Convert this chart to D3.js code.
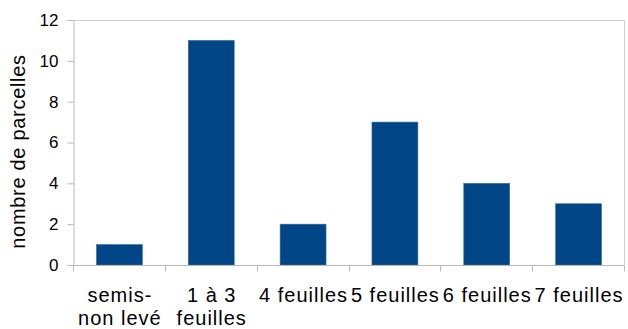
<!DOCTYPE html>
<html>
<head>
<meta charset="utf-8">
<script src="https://cdn.jsdelivr.net/npm/d3@7"></script>
<style>
  body { margin: 0; background: #fff; }
  text { font-family: "Liberation Sans", Arial, sans-serif; fill: #000; }
</style>
</head>
<body>
<div id="wrapper"></div>
<script>
const categories = [["semis-", "non levé"], ["1 à 3", "feuilles"], ["4 feuilles"], ["5 feuilles"], ["6 feuilles"], ["7 feuilles"]]
const values = [1, 11, 2, 7, 4, 3]
const yTicks = [0, 2, 4, 6, 8, 10, 12]
const yTitle = "nombre de parcelles"

const width = 628
const height = 329
const margin = {top: 20, right: 4, bottom: 64, left: 73}

const svg = d3.select("#wrapper")
  .append("svg")
  .attr("width", width)
  .attr("height", height)

const x = d3.scaleBand()
  .domain(d3.range(categories.length))
  .range([margin.left, width - margin.right])
  .paddingInner(0.5)
  .paddingOuter(0.25)

const y = d3.scaleLinear()
  .domain([0, 12])
  .range([height - margin.bottom, margin.top])

// frame top + right
svg.append("path")
  .attr("d", `M${margin.left},${margin.top + 0.5}H${width - margin.right + 0.5}V${y(0)}`)
  .attr("fill", "none")
  .attr("stroke", "#cfcfcf")

// bars
svg.selectAll(".bar").data(values).enter().append("rect")
  .attr("class", "bar")
  .attr("x", (d, i) => x(i) + 0.5)
  .attr("y", d => y(d))
  .attr("width", x.bandwidth())
  .attr("height", d => y(0) - y(d))
  .attr("fill", "#004586")
  .attr("stroke", "#3a6c9c")
  .attr("stroke-width", 0.6)

// y axis
const yAxis = svg.append("g")
  .attr("transform", `translate(${margin.left + 0.5},0)`)
  .call(d3.axisLeft(y).tickValues(yTicks).tickSize(6).tickPadding(9))
yAxis.selectAll("line, path").attr("stroke", "#b8b8b8")
yAxis.selectAll("text").style("font-size", "17px").attr("font-family", null)

// x axis, ticks on category boundaries
const xBase = svg.append("g").attr("transform", `translate(0,${y(0) + 0.5})`)
xBase.append("line")
  .attr("x1", margin.left).attr("x2", width - margin.right)
  .attr("stroke", "#b8b8b8")
const band = (width - margin.right - margin.left) / categories.length
xBase.selectAll(".tk").data(d3.range(categories.length + 1)).enter().append("line")
  .attr("x1", i => Math.round(margin.left + i * band) + 0.5)
  .attr("x2", i => Math.round(margin.left + i * band) + 0.5)
  .attr("y1", 0).attr("y2", 6)
  .attr("stroke", "#b8b8b8")

// x labels
const labels = svg.selectAll(".xl").data(categories).enter().append("text")
  .attr("class", "xl")
  .attr("text-anchor", "middle")
  .style("font-size", "20px")
  .style("letter-spacing", "1px")
labels.each(function(lines, i) {
  const cx = x(i) + x.bandwidth() / 2 + 1
  d3.select(this).selectAll("tspan").data(lines).enter().append("tspan")
    .attr("x", cx)
    .attr("y", (d, j) => 302 + j * 23)
    .text(d => d)
})

// y title
svg.append("text")
  .attr("transform", `translate(25,${(y(0) + margin.top) / 2 + 9}) rotate(-90)`)
  .attr("text-anchor", "middle")
  .style("font-size", "20px")
  .style("letter-spacing", "0.7px")
  .text(yTitle)
</script>
</body>
</html>
